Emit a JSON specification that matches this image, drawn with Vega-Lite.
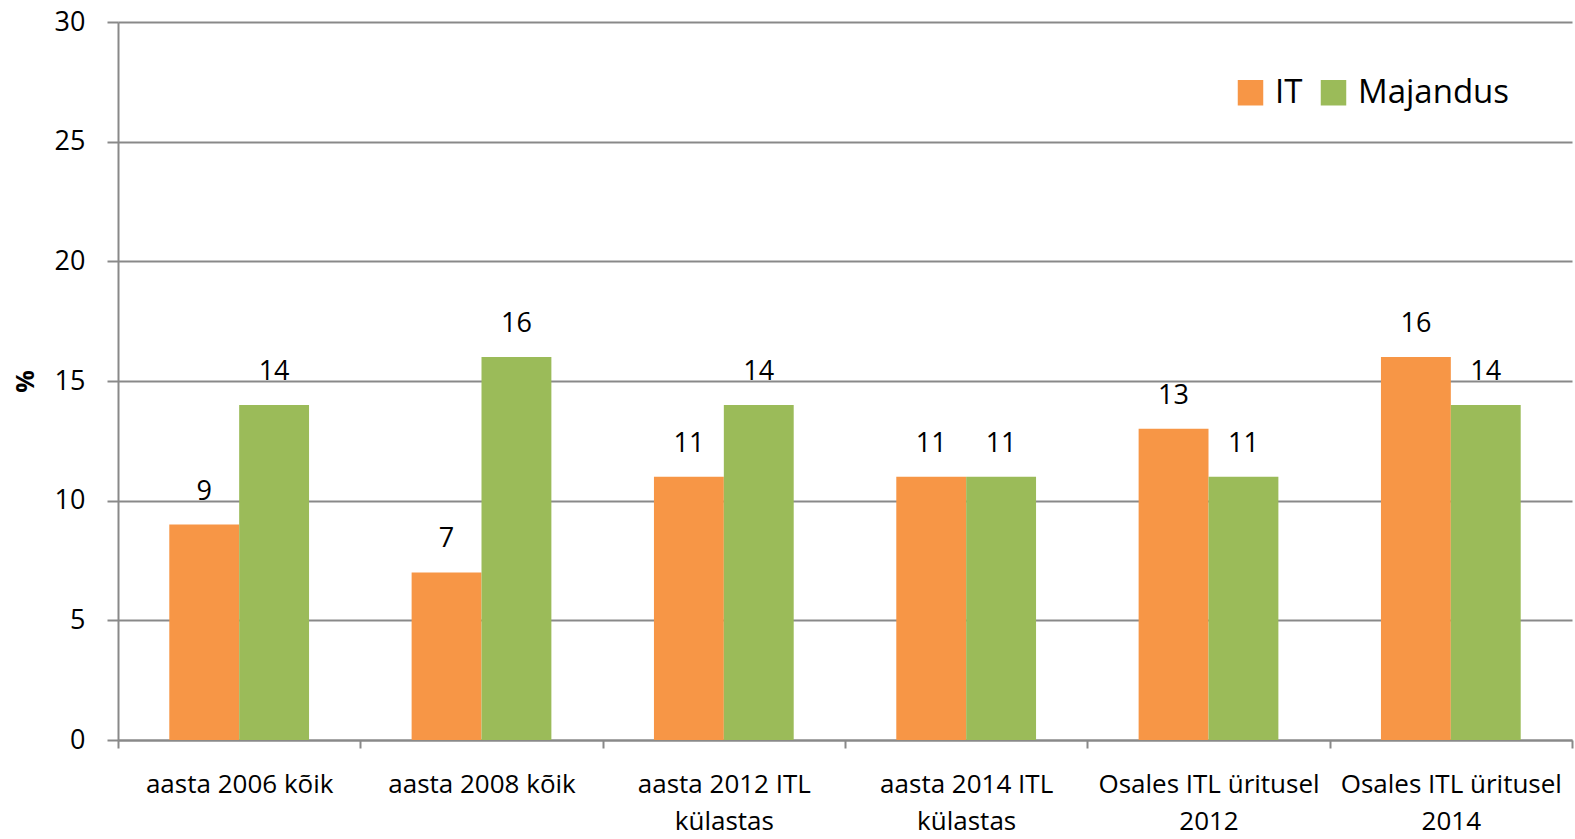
{
  "$schema": "https://vega.github.io/schema/vega-lite/v6.json",
  "width": 1454,
  "height": 718,
  "autosize": {"type": "none"},
  "padding": {"left": 118, "top": 22, "right": 3, "bottom": 99},
  "background": "white",
  "config": {
    "view": {"stroke": null},
    "font": "Open Sans",
    "text": {"font": "Open Sans"}
  },
  "data": {
    "values": [
      {"cat": "aasta 2006 kõik", "series": "IT", "value": 9},
      {"cat": "aasta 2006 kõik", "series": "Majandus", "value": 14},
      {"cat": "aasta 2008 kõik", "series": "IT", "value": 7},
      {"cat": "aasta 2008 kõik", "series": "Majandus", "value": 16},
      {"cat": "aasta 2012 ITL|külastas", "series": "IT", "value": 11},
      {"cat": "aasta 2012 ITL|külastas", "series": "Majandus", "value": 14},
      {"cat": "aasta 2014 ITL|külastas", "series": "IT", "value": 11},
      {"cat": "aasta 2014 ITL|külastas", "series": "Majandus", "value": 11},
      {"cat": "Osales ITL üritusel|2012", "series": "IT", "value": 13},
      {"cat": "Osales ITL üritusel|2012", "series": "Majandus", "value": 11},
      {"cat": "Osales ITL üritusel|2014", "series": "IT", "value": 16},
      {"cat": "Osales ITL üritusel|2014", "series": "Majandus", "value": 14}
    ]
  },
  "encoding": {
    "x": {
      "field": "cat",
      "type": "nominal",
      "sort": null,
      "scale": {"paddingInner": 0, "paddingOuter": 0},
      "axis": {
        "title": null,
        "labelAngle": 0,
        "labelExpr": "split(datum.label, '|')",
        "labelFontSize": 26,
        "labelColor": "#000000",
        "labelLineHeight": 37,
        "labelPadding": 23,
        "labelLimit": 300,
        "tickBand": "extent",
        "tickSize": 8,
        "tickColor": "#898989",
        "tickWidth": 2,
        "domainColor": "#898989",
        "domainWidth": 2,
        "grid": false
      }
    },
    "xOffset": {"field": "series", "type": "nominal", "scale": {"paddingInner": 0, "paddingOuter": 0.734}},
    "y": {
      "field": "value",
      "type": "quantitative",
      "scale": {"domain": [0, 30], "nice": false},
      "axis": {
        "title": "%",
        "titleAngle": -90,
        "titleFontSize": 25,
        "titleFontWeight": "bold",
        "titleColor": "#000000",
        "titleX": -93,
        "titleY": 359,
        "titleAlign": "center",
        "titleBaseline": "middle",
        "values": [0, 5, 10, 15, 20, 25, 30],
        "labelFontSize": 27,
        "labelColor": "#000000",
        "labelPadding": 22,
        "tickSize": 11,
        "tickColor": "#898989",
        "tickWidth": 2,
        "domainColor": "#898989",
        "domainWidth": 2,
        "grid": true,
        "gridColor": "#898989",
        "gridWidth": 2
      }
    }
  },
  "layer": [
    {
      "mark": {"type": "bar"},
      "encoding": {
        "color": {
          "field": "series",
          "type": "nominal",
          "scale": {"domain": ["IT", "Majandus"], "range": ["#F79646", "#9BBB59"]},
          "legend": {
            "title": null,
            "orient": "none",
            "direction": "horizontal",
            "legendX": 1116,
            "legendY": 54,
            "symbolType": "square",
            "symbolSize": 650,
            "symbolStrokeWidth": 0,
            "labelFontSize": 33,
            "labelColor": "#000000",
            "labelOffset": 8,
            "columnPadding": 14
          }
        }
      }
    },
    {
      "mark": {"type": "text", "baseline": "bottom", "dy": -19, "fontSize": 27, "color": "#000000"},
      "encoding": {
        "text": {"field": "value", "type": "quantitative"}
      }
    }
  ]
}
